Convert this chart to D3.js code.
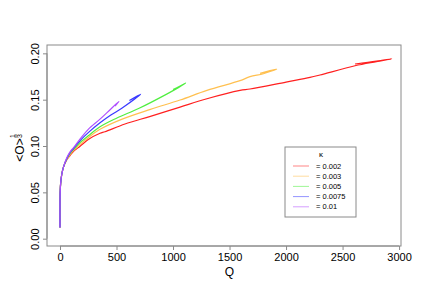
<!DOCTYPE html>
<html>
<head>
<meta charset="utf-8">
<script src="https://cdn.jsdelivr.net/npm/d3@7"></script>
<style>
body{ margin:0; background:#fff; }
text{ font-family:"Liberation Sans", Arial, sans-serif; }
</style>
</head>
<body>
<svg id="chart" width="432" height="300"></svg>
<script>
// kappa values and their colours
var kappas = ["0.002", "0.003", "0.005", "0.0075", "0.01"];
var colors = ["#ff2020", "#ffc050", "#50ee40", "#3a3aff", "#b050ff"];

// Q and <O>^(1/3) per kappa (ends fold back)
var q_002 = [0, 0, 2, 6, 15, 30, 59, 90, 118, 180, 250, 354, 398, 575, 800, 1062, 1300, 1593, 1681, 2000, 2212, 2300, 2610, 2800, 2935, 2800, 2610];
var o_002 = [0.012, 0.04, 0.052, 0.060, 0.069, 0.077, 0.085, 0.090, 0.094, 0.100, 0.107, 0.1137, 0.1154, 0.1237, 0.132, 0.142, 0.151, 0.160, 0.1615, 0.169, 0.174, 0.1766, 0.1866, 0.191, 0.194, 0.1915, 0.1885];

var q_003 = [0, 0, 2, 6, 15, 30, 59, 90, 118, 180, 250, 354, 550, 800, 1062, 1300, 1593, 1681, 1800, 1917, 1850, 1770];
var o_003 = [0.012, 0.04, 0.052, 0.060, 0.069, 0.077, 0.085, 0.091, 0.095, 0.102, 0.109, 0.118, 0.129, 0.1395, 0.1496, 0.160, 0.1705, 0.1748, 0.178, 0.183, 0.181, 0.1784];

var q_005 = [0, 0, 2, 6, 15, 30, 59, 90, 118, 180, 250, 354, 500, 700, 944, 1047, 1112, 1050, 1000];
var o_005 = [0.012, 0.04, 0.052, 0.060, 0.069, 0.077, 0.086, 0.092, 0.096, 0.104, 0.111, 0.1208, 0.130, 0.1407, 0.156, 0.163, 0.168, 0.164, 0.161];

var q_0075 = [0, 0, 2, 6, 15, 30, 59, 90, 118, 180, 250, 354, 450, 550, 714, 614];
var o_0075 = [0.012, 0.04, 0.052, 0.060, 0.069, 0.077, 0.086, 0.093, 0.097, 0.106, 0.1144, 0.125, 0.1334, 0.141, 0.156, 0.149];

var q_01 = [0, 0, 2, 6, 15, 30, 59, 90, 118, 180, 250, 354, 450, 522, 487];
var o_01 = [0.012, 0.04, 0.052, 0.060, 0.069, 0.077, 0.087, 0.094, 0.098, 0.108, 0.118, 0.129, 0.140, 0.148, 0.143];

var xTicks = [0, 500, 1000, 1500, 2000, 2500, 3000];
var yTicks = [0, 0.05, 0.10, 0.15, 0.20];

var series = [
	{ q: q_002, o: o_002 },
	{ q: q_003, o: o_003 },
	{ q: q_005, o: o_005 },
	{ q: q_0075, o: o_0075 },
	{ q: q_01, o: o_01 }
];

var box = { left: 47, right: 401, top: 45, bottom: 246 };

var x = d3.scaleLinear().domain([-115, 3017]).range([box.left, box.right]);
var y = d3.scaleLinear().domain([-0.0079, 0.209]).range([box.bottom, box.top]);

var svg = d3.select("#chart");

var line = d3.line()
	.curve(d3.curveCatmullRom.alpha(0.5))
	.x(function(d){ return x(d[0]); })
	.y(function(d){ return y(d[1]); });

// curves, purple drawn last so it sits on top
series.forEach(function(s, i){
	var pts = s.q.map(function(v, j){ return [v, s.o[j]]; });
	svg.append("path")
		.datum(pts)
		.attr("d", line)
		.attr("fill", "none")
		.attr("stroke", colors[i])
		.attr("stroke-width", 1.2)
		.attr("stroke-linejoin", "round");
});

// plot frame
svg.append("rect")
	.attr("x", box.left).attr("y", box.top)
	.attr("width", box.right - box.left).attr("height", box.bottom - box.top)
	.attr("fill", "none").attr("stroke", "#8a8a8a").attr("stroke-width", 1);

// axes in R style
var xAxis = d3.axisBottom(x).tickValues(xTicks).tickSize(4).tickPadding(3).tickFormat(d3.format("d"));
var gx = svg.append("g").attr("transform", "translate(0," + box.bottom + ")").call(xAxis);
gx.select(".domain").attr("d", "M" + x(0) + ",0H" + x(3000)).attr("stroke", "#8a8a8a");
gx.selectAll(".tick line").attr("stroke", "#8a8a8a");
gx.selectAll(".tick text").attr("font-size", 11).attr("fill", "#000")
	.style("font-family", "Liberation Sans, Arial, sans-serif");

var yAxis = d3.axisLeft(y).tickValues(yTicks).tickSize(4).tickPadding(3).tickFormat(d3.format(".2f"));
var gy = svg.append("g").attr("transform", "translate(" + box.left + ",0)").call(yAxis);
gy.select(".domain").attr("d", "M0," + y(0) + "V" + y(0.2)).attr("stroke", "#8a8a8a");
gy.selectAll(".tick line").attr("stroke", "#8a8a8a");
// rotated labels, like R's las=0
gy.selectAll(".tick text")
	.attr("font-size", 11).attr("fill", "#000")
	.style("font-family", "Liberation Sans, Arial, sans-serif")
	.attr("text-anchor", "middle")
	.attr("transform", "rotate(-90)")
	.attr("x", 0)
	.attr("y", -8)
	.attr("dy", "0");

// axis titles
svg.append("text")
	.attr("x", (x(0) + x(3000)) / 2).attr("y", 276)
	.attr("text-anchor", "middle").attr("font-size", 12)
	.text("Q");

var ylab = svg.append("g").attr("transform", "translate(24,150) rotate(-90)");
ylab.append("text")
	.attr("x", 0).attr("y", 0)
	.attr("text-anchor", "middle").attr("font-size", 12)
	.text("<O>");
ylab.append("text")
	.attr("x", 14).attr("y", -9).attr("text-anchor", "middle").attr("font-size", 7)
	.text("1");
ylab.append("line")
	.attr("x1", 12).attr("x2", 16).attr("y1", -8).attr("y2", -8)
	.attr("stroke", "#000").attr("stroke-width", 0.6);
ylab.append("text")
	.attr("x", 14).attr("y", -2).attr("text-anchor", "middle").attr("font-size", 7)
	.text("3");

// legend
var lg = svg.append("g").attr("transform", "translate(285,147)");
lg.append("rect")
	.attr("width", 71).attr("height", 70)
	.attr("fill", "#fff").attr("stroke", "#8a8a8a").attr("stroke-width", 1);
lg.append("text")
	.attr("x", 36).attr("y", 10).attr("text-anchor", "middle").attr("font-size", 8)
	.text("\u03ba");
kappas.forEach(function(k, i){
	var yy = 19 + i * 10.2;
	lg.append("line")
		.attr("x1", 8).attr("x2", 24).attr("y1", yy).attr("y2", yy)
		.attr("stroke", colors[i]).attr("stroke-opacity", 0.55).attr("stroke-width", 1);
	lg.append("text")
		.attr("x", 31).attr("y", yy + 2.6).attr("font-size", 7.5)
		.text("=  " + k);
});
</script>
</body>
</html>
